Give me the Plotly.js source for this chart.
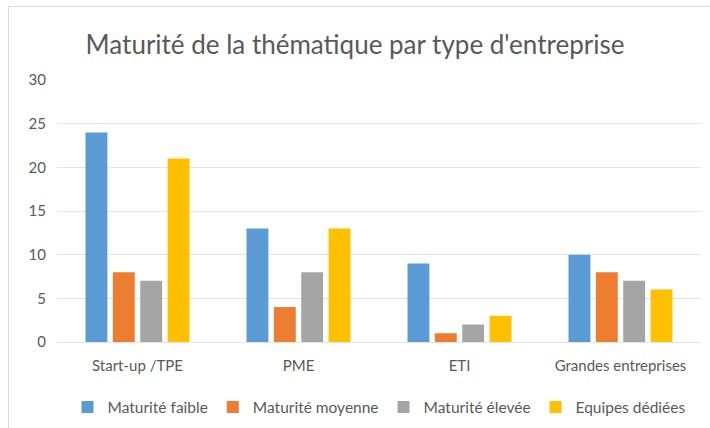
<!DOCTYPE html>
<html><head><meta charset="utf-8">
<script src="https://cdn.plot.ly/plotly-3.0.1.min.js"></script>
<style>
html,body{margin:0;padding:0;background:#fff;}
#frame{position:absolute;left:8px;top:6px;width:710px;height:430px;border:1px solid #d9d9d9;box-sizing:border-box;}
#chart{position:absolute;left:0;top:0;width:710px;height:428px;}
</style></head><body>
<div id="frame"></div>
<div id="chart"></div>
<script>
const categories = ["Start-up /TPE", "PME", "ETI", "Grandes entreprises"];
const seriesNames = ["Maturité faible", "Maturité moyenne", "Maturité élevée", "Equipes dédiées"];
const faible = [24, 13, 9, 10];
const moyenne = [8, 4, 1, 8];
const elevee = [7, 8, 2, 7];
const equipes = [21, 13, 3, 6];
const colors = ["#5B9BD5", "#ED7D31", "#A5A5A5", "#FFC000"];
const values = [faible, moyenne, elevee, equipes];
const data = values.map((v, i) => ({
  type: "bar", x: categories, y: v, name: seriesNames[i],
  marker: {color: colors[i]}, hoverinfo: "none"
}));
const layout = {
  width: 710, height: 428,
  paper_bgcolor: "rgba(0,0,0,0)", plot_bgcolor: "rgba(0,0,0,0)",
  font: {family: "Lato, 'Open Sans', sans-serif", color: "#595959", size: 15},
  title: {text: "Maturité de la thématique par type d'entreprise", font: {size: 26, color: "#595959"}, x: 0.5, xanchor: "center", y: 0.895, yanchor: "middle"},
  margin: {l: 57, r: 9, t: 80, b: 86, autoexpand: false},
  barmode: "group", bargap: 0.32, bargroupgap: 0.2,
  xaxis: {showgrid: false, showline: true, linecolor: "#e3e3e3", ticks: "", tickfont: {size: 15, color: "#595959"}, ticklabelstandoff: 10, automargin: false},
  yaxis: {range: [0, 30], dtick: 5, showgrid: true, gridcolor: "#e3e3e3", zeroline: false, showline: false, ticks: "", tickfont: {size: 15, color: "#595959"}, ticklabelstandoff: 10, automargin: false},
  legend: {orientation: "h", x: 0.5, xanchor: "center", y: -0.25, yanchor: "middle", font: {size: 15.5, color: "#595959"}, itemwidth: 30, traceorder: "normal"},
  showlegend: true
};
Plotly.newPlot("chart", data, layout, {displayModeBar: false, staticPlot: true});
</script>
</body></html>
